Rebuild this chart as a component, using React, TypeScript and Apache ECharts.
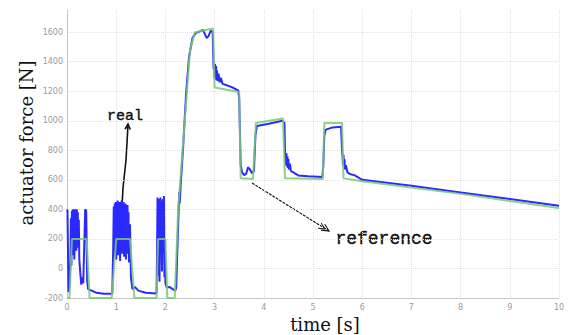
import React, { useEffect, useRef } from "react";
import * as echarts from "echarts";

// Commanded actuator force (reference) as [time s, force N]
const refPoints: [number, number][] = [
  [0, -200], [0.05, -200], [0.1, 200], [0.4, 200], [0.46, -200],
  [0.91, -200], [1.0, 200], [1.28, 200], [1.37, -200],
  [1.82, -200], [1.85, 200], [2.0, 200], [2.04, -200],
  [2.19, -200], [2.26, 400], [2.5, 1480], [2.6, 1600], [2.97, 1625],
  [3.0, 1225], [3.5, 1195], [3.53, 610], [3.78, 605], [3.84, 985],
  [4.39, 1015], [4.43, 610], [5.2, 605], [5.23, 985], [5.59, 985],
  [5.62, 610], [6, 590], [8, 505], [10, 410],
];

// Measured actuator force (real) as [time s, force N]
const realPoints: [number, number][] = [
  [0, 400], [0.01, 390], [0.03, -160], [0.05, -120], [0.07, 60], [0.08, 340],
  [0.09, 20], [0.1, 390], [0.11, 90], [0.12, 400], [0.13, 150], [0.14, 380],
  [0.15, 60], [0.16, 400], [0.17, 200], [0.18, 390], [0.19, 120], [0.2, 400],
  [0.21, 250], [0.22, 380], [0.23, 140], [0.24, 330], [0.25, 60], [0.27, -30],
  [0.29, -110], [0.31, -60], [0.33, -100], [0.35, 150], [0.37, 400], [0.39, 390],
  [0.41, -80], [0.43, -140], [0.5, -150], [0.6, -165], [0.75, -172], [0.92, -172],
  [0.94, 150], [0.95, 420], [0.96, 80], [0.97, 440], [0.98, 120], [0.99, 450],
  [1.0, 60], [1.01, 430], [1.02, 160], [1.03, 460], [1.04, 90], [1.05, 420],
  [1.06, 200], [1.07, 450], [1.08, 50], [1.09, 440], [1.1, 150], [1.11, 460],
  [1.12, 100], [1.13, 430], [1.14, 220], [1.15, 450], [1.16, 80], [1.17, 420],
  [1.18, 180], [1.19, 440], [1.2, 60], [1.21, 400], [1.22, 150], [1.23, 430],
  [1.24, 100], [1.25, 380], [1.26, 40], [1.28, 300], [1.3, -60], [1.33, -140],
  [1.38, -125], [1.45, -150], [1.6, -165], [1.81, -170],
  [1.82, -160], [1.83, 100], [1.84, 480], [1.85, -50], [1.86, 470], [1.87, 60],
  [1.88, -90], [1.89, 200], [1.9, 480], [1.91, 120], [1.92, 460], [1.93, -20],
  [1.94, 300], [1.95, 470], [1.96, 100], [1.97, 490], [1.98, -60], [1.99, 200],
  [2.0, -100], [2.03, -130], [2.08, -125], [2.15, -140], [2.2, -150],
  [2.22, -130], [2.25, 200], [2.27, 400], [2.28, 520], [2.29, 440], [2.3, 500],
  [2.31, 560], [2.36, 820], [2.42, 1180], [2.48, 1430], [2.55, 1560],
  [2.62, 1595], [2.7, 1605], [2.76, 1615], [2.8, 1590], [2.84, 1560],
  [2.88, 1575], [2.92, 1610], [2.96, 1600], [2.98, 1350], [2.99, 1390],
  [3.0, 1290], [3.01, 1385], [3.02, 1280], [3.03, 1370], [3.04, 1275],
  [3.05, 1340], [3.06, 1270], [3.08, 1320], [3.1, 1260], [3.13, 1290],
  [3.16, 1250], [3.25, 1240], [3.35, 1228], [3.48, 1205], [3.5, 1150],
  [3.53, 700], [3.56, 650], [3.6, 632], [3.64, 640], [3.68, 685], [3.72, 670],
  [3.76, 645], [3.8, 660], [3.83, 900], [3.86, 965], [4.1, 980], [4.38, 1000],
  [4.42, 985], [4.43, 800], [4.44, 760], [4.45, 700], [4.46, 780], [4.47, 690],
  [4.48, 760], [4.49, 680], [4.5, 740], [4.51, 670], [4.53, 710], [4.55, 660],
  [4.6, 650], [4.7, 630], [4.9, 625], [5.19, 620], [5.21, 700], [5.23, 900],
  [5.26, 940], [5.4, 955], [5.57, 960], [5.59, 800], [5.6, 760], [5.61, 700],
  [5.62, 770], [5.63, 690], [5.64, 740], [5.65, 670], [5.67, 700], [5.7, 650],
  [5.75, 640], [5.85, 630], [6, 600], [7, 560], [8, 515], [9, 470], [10, 425],
];

const xRange = { min: 0, max: 10, step: 1 };
const yRange = { min: -200, max: 1750, step: 200 };

const gridBox = { left: 67, right: 14, top: 10, bottom: 37 };

// small open arrowhead at (tx, ty) pointing along (dx, dy)
function arrowHead(tx: number, ty: number, dx: number, dy: number, len: number) {
  const a = Math.atan2(dy, dx);
  const s = 0.45;
  return [
    [tx - len * Math.cos(a - s), ty - len * Math.sin(a - s)],
    [tx, ty],
    [tx - len * Math.cos(a + s), ty - len * Math.sin(a + s)],
  ];
}

export default function App() {
  const ref = useRef<HTMLDivElement>(null);

  useEffect(() => {
    const chart = echarts.init(ref.current!, null, { renderer: "svg" });
    const tickFont = { fontSize: 8, color: "#9a9a9a", fontFamily: "DejaVu Sans" };
    const gridLine = { color: "#e0e0e0", type: "dotted" as const, width: 1 };
    const black = "#111";

    chart.setOption({
      animation: false,
      backgroundColor: "#fff",
      grid: { ...gridBox, containLabel: false },
      xAxis: {
        type: "value",
        min: xRange.min,
        max: xRange.max,
        interval: xRange.step,
        axisLine: { show: true, onZero: false, lineStyle: { color: "#c6c6c6" } },
        axisTick: { show: false },
        axisLabel: { ...tickFont, margin: 5 },
        splitLine: { show: true, showMaxLine: true, lineStyle: gridLine },
      },
      yAxis: {
        type: "value",
        min: yRange.min,
        max: yRange.max,
        interval: yRange.step,
        axisLine: { show: true, onZero: false, lineStyle: { color: "#c6c6c6" } },
        axisTick: { show: false },
        axisLabel: {
          ...tickFont,
          margin: 4,
          showMaxLabel: false,
          formatter: (v: number) => String(v),
        },
        splitLine: { show: true, showMaxLine: false, lineStyle: gridLine },
      },
      series: [
        {
          name: "real",
          type: "line",
          data: realPoints,
          showSymbol: false,
          lineStyle: { color: "#2a2aff", width: 2 },
          z: 2,
        },
        {
          name: "reference",
          type: "line",
          data: refPoints,
          showSymbol: false,
          lineStyle: { color: "#78c878", width: 2, opacity: 0.85 },
          z: 3,
        },
      ],
      graphic: [
        {
          type: "text",
          x: 26,
          y: 143,
          rotation: Math.PI / 2,
          style: {
            text: "actuator force [N]",
            font: "18px 'DejaVu Serif'",
            fill: black,
            textAlign: "center",
            textVerticalAlign: "middle",
          },
        },
        {
          type: "text",
          x: 325,
          y: 324,
          style: {
            text: "time [s]",
            font: "18px 'DejaVu Serif'",
            fill: black,
            textAlign: "center",
            textVerticalAlign: "middle",
          },
        },
        {
          type: "text",
          x: 125,
          y: 116,
          style: {
            text: "real",
            font: "15px 'Liberation Mono'",
            fill: black,
            stroke: black,
            lineWidth: 0.4,
            textAlign: "center",
            textVerticalAlign: "middle",
          },
        },
        {
          type: "text",
          x: 384,
          y: 239,
          style: {
            text: "reference",
            font: "18px 'Liberation Mono'",
            fill: black,
            stroke: black,
            lineWidth: 0.4,
            textAlign: "center",
            textVerticalAlign: "middle",
          },
        },
        {
          type: "polyline",
          shape: { points: [[122, 206], [123, 188], [126, 160], [128, 125]] },
          style: { stroke: black, lineWidth: 1.6, fill: "none" },
        },
        {
          type: "polyline",
          shape: { points: arrowHead(128, 124, 0.06, -1, 6) },
          style: { stroke: black, lineWidth: 1.6, fill: "none" },
        },
        {
          type: "line",
          shape: { x1: 252, y1: 183, x2: 329, y2: 231 },
          style: { stroke: black, lineWidth: 1.1, lineDash: [3, 1] },
        },
        {
          type: "polyline",
          shape: { points: arrowHead(329, 231, 77, 48, 8) },
          style: { stroke: black, lineWidth: 1.1, fill: "none" },
        },
        {
          type: "polyline",
          shape: { points: arrowHead(325, 229, 77, 48, 7) },
          style: { stroke: black, lineWidth: 1, fill: "none" },
        },
      ],
    });
    return () => chart.dispose();
  }, []);

  return (
    <div
      ref={ref}
      style={{ position: "fixed", left: 0, top: 0, width: 573, height: 335 }}
    />
  );
}
